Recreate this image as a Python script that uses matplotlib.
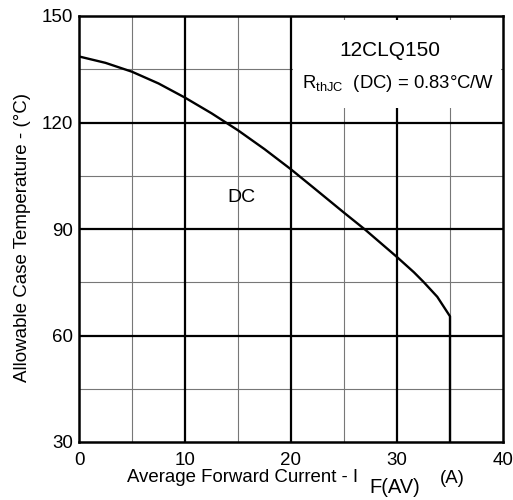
"""Allowable case temperature vs average forward current (12CLQ150 derating)."""

import matplotlib

matplotlib.use("Agg")
import matplotlib.pyplot as plt
from matplotlib.patches import Rectangle

plt.rcParams["font.family"] = ["Liberation Sans", "DejaVu Sans"]

# curve (last point = vertical drop at 35 A)
current_a = [0, 2.5, 5, 7.5, 10, 12.5, 15, 17.5, 20, 22.1, 25, 27, 30, 31.6, 32.5, 33.8, 35, 35]
case_temp_c = [138.6, 136.8, 134.3, 131.0, 127.0, 122.6, 117.8, 112.5, 106.8, 101.7, 94.6,
               89.8, 82.1, 77.8, 75.1, 70.9, 65.4, 30]

x_major = [10, 20, 30]
x_minor = [5, 15, 25, 35]
y_major = [60, 90, 120]
y_minor = [45, 75, 105, 135]

x_ticks = [0, 10, 20, 30, 40]
y_ticks = [30, 60, 90, 120, 150]

fig = plt.figure(figsize=(5.13, 5.0), dpi=100)
ax = fig.add_axes([0.154, 0.116, 0.8265, 0.852])

ax.set_xlim(0, 40)
ax.set_ylim(30, 150)

# grid: thin grey minor, thick black major
for x in x_minor:
    ax.axvline(x, color="#777777", lw=0.8, zorder=1)
for y in y_minor:
    ax.axhline(y, color="#777777", lw=0.8, zorder=1)
for x in x_major:
    ax.axvline(x, color="black", lw=1.6, zorder=1)
for y in y_major:
    ax.axhline(y, color="black", lw=1.6, zorder=1)

# white label box over the grid
ax.add_patch(Rectangle((20.2, 124), 19.6, 25, facecolor="white", edgecolor="none", zorder=2))

ax.plot(current_a, case_temp_c, color="black", lw=1.7, zorder=3)

ax.text(29.3, 140.2, "12CLQ150", ha="center", va="center", fontsize=15, zorder=4)
ax.text(30.1, 131, r"R$_{\mathregular{thJC}}$  (DC) = 0.83°C/W", ha="center", va="center",
        fontsize=13.3, zorder=4)
ax.text(15.3, 98.8, "DC", ha="center", va="center", fontsize=14, zorder=4)

ax.set_xticks(x_ticks)
ax.set_yticks(y_ticks)
ax.tick_params(length=0, labelsize=13.5)
ax.tick_params(axis="x", pad=7.5)
ax.tick_params(axis="y", pad=4)
for s in ax.spines.values():
    s.set_linewidth(1.8)
    s.set_zorder(5)

fig.text(0.043, 0.526, "Allowable Case Temperature - (°C)", rotation=90,
         ha="center", va="center", fontsize=13.5)

# x label with the offset F(AV) subscript like the datasheet
lbl = fig.text(127 / 513, 1 - 482 / 500, "Average Forward Current - I", ha="left",
               va="baseline", fontsize=13.4)
sub = ax.annotate("F(AV)", xy=(1, 0), xycoords=lbl, xytext=(8, -5), textcoords="offset points",
                  ha="left", va="baseline", fontsize=14.5, annotation_clip=False)
ax.annotate("(A)", xy=(1, 0), xycoords=sub, xytext=(14, 10), textcoords="offset points",
            ha="left", va="baseline", fontsize=13.4, annotation_clip=False)

fig.savefig("out.png", dpi=100, facecolor="white")
